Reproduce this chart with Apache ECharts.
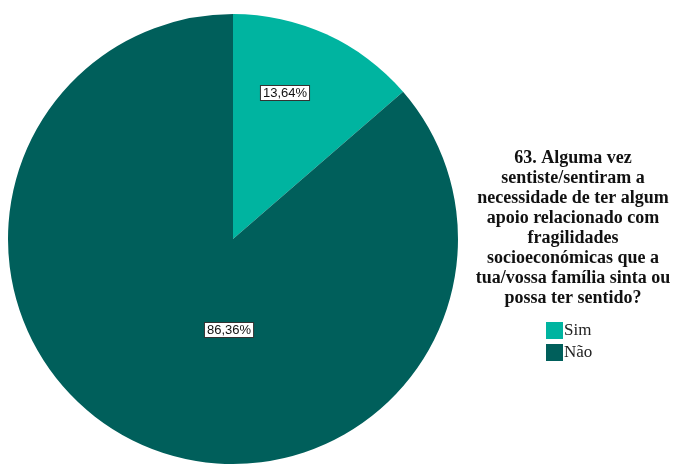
<!DOCTYPE html>
<html>
<head>
<meta charset="utf-8">
<script src="https://cdn.jsdelivr.net/npm/echarts@6/dist/echarts.min.js"></script>
<style>
  html, body { margin: 0; padding: 0; background: #fff; }
  #chart { width: 673px; height: 468px; }
</style>
</head>
<body>
<div id="chart"></div>
<script>
// data
const categories = ['Sim', 'Não'];
const percents = [13.64, 86.36];
const colors = ['#00b4a0', '#005f5b'];
const titleText = '63. Alguma vez\nsentiste/sentiram a\nnecessidade de ter algum\napoio relacionado com\nfragilidades\nsocioeconómicas que a\ntua/vossa família sinta ou\npossa ter sentido?';

// nudge the inside labels to where the picture has them
const labelShift = [[4, -41], [44, -14]];

let myChart = echarts.init(document.getElementById('chart'));

let pieData = categories.map(function (name, i) {
    return { name: name, value: percents[i], itemStyle: { color: colors[i] } };
});

myChart.setOption({
    animation: false,
    title: {
        text: titleText,
        left: 568,
        top: 143,
        textAlign: 'center',
        textStyle: {
            fontFamily: 'Liberation Serif',
            fontWeight: 'bold',
            fontSize: 18,
            lineHeight: 20,
            color: '#111'
        }
    },
    legend: {
        orient: 'vertical',
        left: 541,
        top: 317,
        itemWidth: 17,
        itemHeight: 17,
        itemGap: 5,
        icon: 'rect',
        data: categories,
        textStyle: {
            fontFamily: 'Liberation Serif',
            fontSize: 17,
            color: '#222',
            padding: [0, 0, 0, -4]
        }
    },
    series: [
        {
            type: 'pie',
            center: [233, 239],
            radius: 225,
            startAngle: 90,
            clockwise: true,
            data: pieData,
            itemStyle: {
                borderWidth: 0
            },
            emphasis: { disabled: true },
            label: {
                position: 'inside',
                formatter: function (params) {
                    return params.value.toFixed(2).replace('.', ',') + '%';
                },
                fontFamily: 'Liberation Sans',
                fontSize: 13,
                color: '#111',
                backgroundColor: '#fff',
                borderColor: '#333',
                borderWidth: 1,
                padding: [1, 2, 0, 2]
            },
            labelLine: { show: false },
            labelLayout: function (params) {
                let s = labelShift[params.dataIndex];
                return { dx: s[0], dy: s[1] };
            }
        }
    ]
});
</script>
</body>
</html>
